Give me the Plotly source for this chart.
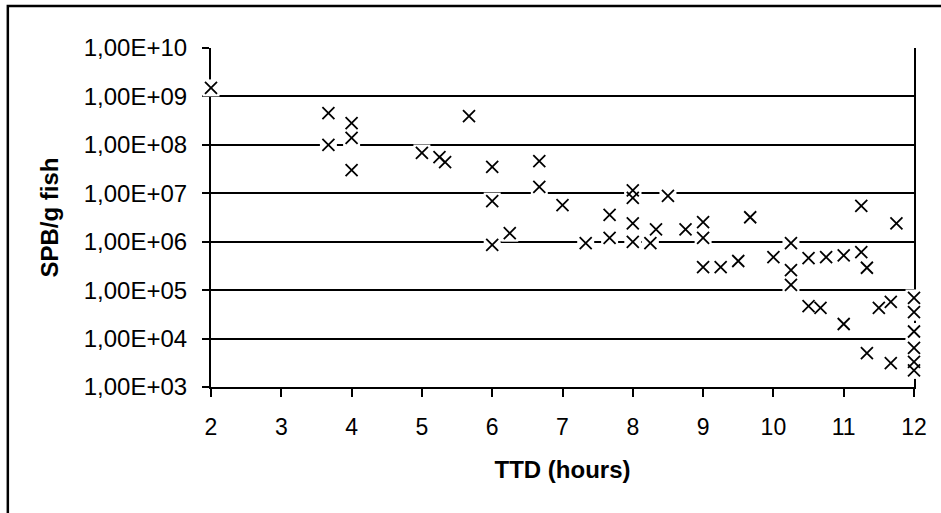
import plotly.graph_objects as go

# TTD (hours) and SPB/g fish values
ttd = [2,
       3.67, 3.67,
       4, 4, 4,
       5, 5.25, 5.33,
       5.67,
       6, 6, 6,
       6.25,
       6.67, 6.67,
       7,
       7.33,
       7.67, 7.67,
       8, 8, 8, 8,
       8.25, 8.33, 8.5, 8.75,
       9, 9, 9,
       9.25, 9.5, 9.67,
       10,
       10.25, 10.25, 10.25,
       10.5, 10.5,
       10.67, 10.75,
       11, 11,
       11.25, 11.25,
       11.33, 11.33,
       11.5, 11.67, 11.67, 11.75,
       12, 12, 12, 12, 12, 12, 12]
spb = [1.5e9,
       4.5e8, 1.0e8,
       2.8e8, 1.4e8, 3.0e7,
       6.8e7, 5.6e7, 4.4e7,
       3.9e8,
       3.5e7, 6.9e6, 8.6e5,
       1.5e6,
       4.6e7, 1.35e7,
       5.7e6,
       9.4e5,
       3.6e6, 1.2e6,
       1.15e7, 8.0e6, 2.4e6, 9.9e5,
       9.4e5, 1.8e6, 8.8e6, 1.8e6,
       2.55e6, 1.2e6, 3.0e5,
       3.0e5, 4.0e5, 3.2e6,
       4.8e5,
       9.4e5, 2.6e5, 1.28e5,
       4.6e5, 4.7e4,
       4.3e4, 4.8e5,
       5.2e5, 2.0e4,
       6.1e5, 5.5e6,
       2.9e5, 5.0e3,
       4.3e4, 5.7e4, 3.1e3, 2.4e6,
       6.9e4, 3.5e4, 1.4e4, 6.4e3, 3.3e3, 2.2e3, 1.0e3]

y_tickvals = [1e3, 1e4, 1e5, 1e6, 1e7, 1e8, 1e9, 1e10]
y_ticktext = ["1,00E+03", "1,00E+04", "1,00E+05", "1,00E+06",
              "1,00E+07", "1,00E+08", "1,00E+09", "1,00E+10"]
x_tickvals = [2, 3, 4, 5, 6, 7, 8, 9, 10, 11, 12]

FONT = "Arial, 'Liberation Sans', sans-serif"

fig = go.Figure()
# white backgrounds behind markers (break the gridlines like the original)
fig.add_trace(go.Scatter(
    x=ttd, y=spb, mode="markers", cliponaxis=False, hoverinfo="skip",
    marker=dict(symbol="square", size=17, color="white", line=dict(width=0)),
    showlegend=False))
fig.add_trace(go.Scatter(
    x=ttd, y=spb, mode="markers", cliponaxis=False,
    marker=dict(symbol="x-thin", size=12, color="black",
                line=dict(width=1.8, color="black")),
    showlegend=False))

fig.update_layout(
    width=941, height=513,
    margin=dict(l=211, r=27, t=48, b=126),
    paper_bgcolor="white", plot_bgcolor="white",
    font=dict(family=FONT, color="black"),
    xaxis=dict(
        range=[2, 12], tickvals=x_tickvals,
        ticks="outside", ticklen=8, tickwidth=1.5, tickcolor="black",
        showgrid=False, zeroline=False,
        showline=True, linecolor="black", linewidth=2,
        tickfont=dict(size=23, family=FONT), ticklabelstandoff=10,
        title=dict(text="<b>TTD (hours)</b>", font=dict(size=24, family=FONT), standoff=23),
        layer="below traces",
    ),
    yaxis=dict(
        type="log", range=[3, 10],
        tickvals=y_tickvals, ticktext=y_ticktext,
        ticks="outside", ticklen=7, tickwidth=1.5, tickcolor="black",
        showgrid=True, gridcolor="black", gridwidth=2,
        zeroline=False,
        showline=True, linecolor="black", linewidth=2, mirror=True,
        tickfont=dict(size=24, family=FONT), ticklabelstandoff=10,
        title=dict(text="<b>SPB/g fish</b>", font=dict(size=24, family=FONT), standoff=18),
        layer="below traces",
    ),
    shapes=[dict(type="rect", xref="paper", yref="paper",
                 x0=-0.289, x1=1.5, y0=-0.8, y1=1.124,
                 line=dict(color="black", width=2.5), fillcolor="rgba(0,0,0,0)",
                 layer="below")],
)

fig.write_html("out.html",
               config={"displayModeBar": False},
               post_script="document.body.style.margin='0';document.body.style.overflow='hidden';")
